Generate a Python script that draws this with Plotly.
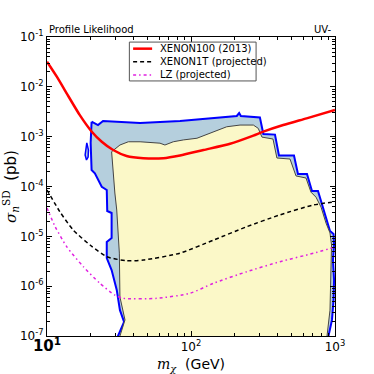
import plotly.graph_objects as go

# ---------------- data ----------------
# XENON100 (2013) limit
xe100_mass = [10, 11.7, 13.7, 16.9, 20.4, 24.0, 28.8, 35.7, 46.6, 64.2, 83.9, 122, 187, 271, 318, 437, 635, 1000]
xe100_sigma = [3.2e-2, 1.6e-2, 7.4e-3, 2.7e-3, 1.27e-3, 7.9e-4, 5.4e-4, 4.1e-4, 3.7e-4, 3.7e-4,
               4.2e-4, 5.4e-4, 7.2e-4, 1.05e-3, 1.26e-3, 1.71e-3, 2.33e-3, 3.43e-3]

# XENON1T (projected)
xe1t_mass = [10, 12.3, 15.2, 19.9, 26.0, 35.7, 46.6, 83.9, 143, 244, 415, 707, 1000]
xe1t_sigma = [8.5e-5, 3.1e-5, 1.34e-5, 6.7e-6, 3.9e-6, 3.24e-6, 3.35e-6, 4.6e-6, 8.4e-6,
              1.56e-5, 2.7e-5, 4.25e-5, 4.95e-5]

# LZ (projected)
lz_mass = [10, 11.4, 13.7, 17.9, 23.3, 29.6, 33.9, 57.8, 98.4, 143, 244, 415, 707, 1000]
lz_sigma = [3.7e-5, 1.56e-5, 6.2e-6, 2.45e-6, 1.14e-6, 6.6e-7, 5.7e-7, 5.7e-7, 7.2e-7,
            1.14e-6, 1.95e-6, 3.1e-6, 4.56e-6, 6.1e-6]

# outer (2 sigma) credible contour
outer_mass = [20.4, 22.6, 24.5, 44.3, 83.9, 159, 208, 216, 222, 301, 318, 383, 408, 519, 553, 639,
              692, 762, 819, 873, 923, 977, 985, 968, 985, 977, 953, 901, 880,
              30.6, 31.1, 34.3, 32.1, 30.5, 28.1, 26.0, 26.0, 28.1, 28.1, 26.2, 26.0, 24.0,
              22.7, 21.5, 20.4, 20.1, 20.4]
outer_sigma = [2.0e-3, 1.71e-3, 2.06e-3, 1.88e-3, 2.06e-3, 2.45e-3, 2.6e-3, 2.98e-3, 2.6e-3, 2.43e-3,
               1.13e-3, 1.10e-3, 4.19e-4, 4.19e-4, 1.78e-4, 1.78e-4, 8.1e-5, 8.1e-5, 4.06e-5,
               2.23e-5, 1.28e-5, 1.11e-5, 6.7e-6, 3.35e-6, 1.33e-6, 5.3e-7, 2.1e-7, 1e-7, 6.3e-8,
               6.3e-8, 1e-7, 1.91e-7, 3.3e-7, 8.4e-7, 2.1e-6, 3.67e-6, 7.7e-6, 9.2e-6, 2.94e-5,
               3.22e-5, 8.5e-5, 9.9e-5, 1.35e-4, 1.84e-4, 2.14e-4, 7.5e-4, 2.0e-3]

# small isolated outer-contour island
island_mass = [18.9, 19.4, 19.3, 18.8, 18.4, 18.8, 18.9]
island_sigma = [7.5e-4, 5.4e-4, 3.9e-4, 3.4e-4, 4.3e-4, 5.9e-4, 7.5e-4]

# inner (1 sigma) credible contour
inner_mass = [28.1, 32.1, 36.7, 44.3, 60.9, 65.9, 75.3, 88.5, 110, 143, 177, 219, 271, 293, 311,
              371, 395, 487, 536, 629, 681, 738, 800, 866, 923, 946, 938, 923, 880, 866,
              32.1, 32.1, 34.8, 32.1, 31.8, 31.2, 30.5, 29.6, 28.8, 28.1]
inner_sigma = [4.99e-4, 6.8e-4, 7.9e-4, 7.9e-4, 7.4e-4, 6.8e-4, 7.9e-4, 8.6e-4, 9.3e-4, 1.26e-3,
               1.58e-3, 1.71e-3, 1.71e-3, 1.47e-3, 9.8e-4, 8.97e-4, 3.73e-4, 3.56e-4, 1.63e-4,
               1.48e-4, 7.7e-5, 6.1e-5, 3.87e-5, 1.85e-5, 1.17e-5, 6.7e-6, 9.6e-7, 3.3e-7, 1e-7,
               6.3e-8, 6.3e-8, 1e-7, 2.1e-7, 6.05e-7, 4.6e-6, 1.34e-5, 3.37e-5, 7.4e-5, 2.14e-4,
               4.99e-4]

series_names = ["XENON100 (2013)", "XENON1T (projected)", "LZ (projected)"]

x_tick_vals = [10, 100, 1000]
x_tick_text = ["<span style='font-size:15px'><b>10<sup>1</sup></b></span>",
               "10<sup>2</sup>", "10<sup>3</sup>"]
y_tick_vals = [1e-7, 1e-6, 1e-5, 1e-4, 1e-3, 1e-2, 1e-1]
y_tick_text = ["10<sup>-7</sup>", "10<sup>-6</sup>", "10<sup>-5</sup>", "10<sup>-4</sup>",
               "10<sup>-3</sup>", "10<sup>-2</sup>", "10<sup>-1</sup>"]

x_minor = [m * d for d in (10, 100) for m in range(2, 10)]
y_minor = [m * 10.0 ** e for e in range(-7, -1) for m in range(2, 10)]

BLUE_FILL = "#b5cfdd"
YELLOW_FILL = "#fbf8c8"
line_styles = [dict(color="#ff0000", width=2.5),
               dict(color="black", width=1.5, dash="4px,3px"),
               dict(color="#e020e0", width=1.5, dash="3px,3px,1.5px,3px")]

fig = go.Figure()

fig.add_trace(go.Scatter(x=outer_mass, y=outer_sigma, mode="lines", fill="toself",
                         fillcolor=BLUE_FILL, line=dict(color="#0000ff", width=2),
                         showlegend=False, hoverinfo="skip"))
fig.add_trace(go.Scatter(x=island_mass, y=island_sigma, mode="lines", fill="toself",
                         fillcolor=BLUE_FILL, line=dict(color="#0000ff", width=1.5),
                         showlegend=False, hoverinfo="skip"))
fig.add_trace(go.Scatter(x=inner_mass, y=inner_sigma, mode="lines", fill="toself",
                         fillcolor=YELLOW_FILL, line=dict(color="#444444", width=1),
                         showlegend=False, hoverinfo="skip"))

for (mx, sg), name, st in zip([(xe100_mass, xe100_sigma), (xe1t_mass, xe1t_sigma), (lz_mass, lz_sigma)],
                              series_names, line_styles):
    fig.add_trace(go.Scatter(x=mx, y=sg, mode="lines", name=name, showlegend=False,
                             line=dict(shape="spline", smoothing=0.6, **st)))

# compact legend box (paper coordinates)
leg_x0, leg_x1, leg_y0, leg_y1 = 0.286, 0.726, 0.853, 0.983
row_y = [0.961, 0.917, 0.873]
fig.add_shape(type="rect", xref="paper", yref="paper", x0=leg_x0, x1=leg_x1, y0=leg_y0, y1=leg_y1,
              line=dict(color="#555555", width=1), fillcolor="white", layer="above")
for ry, name, st in zip(row_y, series_names, line_styles):
    fig.add_shape(type="line", xref="paper", yref="paper", x0=0.299, x1=0.365, y0=ry, y1=ry,
                  line=st, layer="above")
    fig.add_annotation(text=name, xref="paper", yref="paper", x=0.385, y=ry, xanchor="left",
                       yanchor="middle", showarrow=False,
                       font=dict(family="DejaVu Sans", size=10, color="black"))

axis_common = dict(type="log", showgrid=False, zeroline=False, showline=True, linecolor="black",
                   linewidth=1, mirror="allticks", ticks="inside", ticklen=5, tickwidth=1,
                   tickcolor="black", tickmode="array", automargin=False,
                   tickfont=dict(family="DejaVu Sans", size=12, color="black"))

fig.update_xaxes(**axis_common, range=[1, 3], tickvals=x_tick_vals, ticktext=x_tick_text,
                 minor=dict(tickmode="array", tickvals=x_minor, ticks="inside", ticklen=3,
                            tickcolor="black", showgrid=False),
                 title=dict(text="<span style='font-family:DejaVu Serif'><i>m</i><sub><i>χ</i></sub></span>  (GeV)",
                            standoff=4, font=dict(family="DejaVu Sans", size=14, color="black")))
fig.update_yaxes(**axis_common, range=[-7, -1], tickvals=y_tick_vals, ticktext=y_tick_text,
                 minor=dict(tickmode="array", tickvals=y_minor, ticks="inside", ticklen=3,
                            tickcolor="black", showgrid=False),
                 title=dict(text="<span style='font-family:DejaVu Serif'><i>σ</i><sub><i>n</i></sub><sup>SD</sup></span>  (pb)",
                            standoff=2, font=dict(family="DejaVu Sans", size=15, color="black")))

fig.add_annotation(text="Profile Likelihood", xref="paper", yref="paper", x=0, y=1,
                   xanchor="left", yanchor="bottom", showarrow=False,
                   font=dict(family="DejaVu Sans", size=10, color="black"))
fig.add_annotation(text="UV-", xref="paper", yref="paper", x=0.919, y=1,
                   xanchor="left", yanchor="bottom", showarrow=False,
                   font=dict(family="DejaVu Sans", size=10, color="black"))

fig.update_layout(
    width=374, height=374,
    margin=dict(l=47, r=39, t=37, b=38),
    paper_bgcolor="white", plot_bgcolor="white",
    showlegend=False,
)

fig.write_html("out.html", config={"displayModeBar": False},
               post_script="document.body.style.margin='0px';")
